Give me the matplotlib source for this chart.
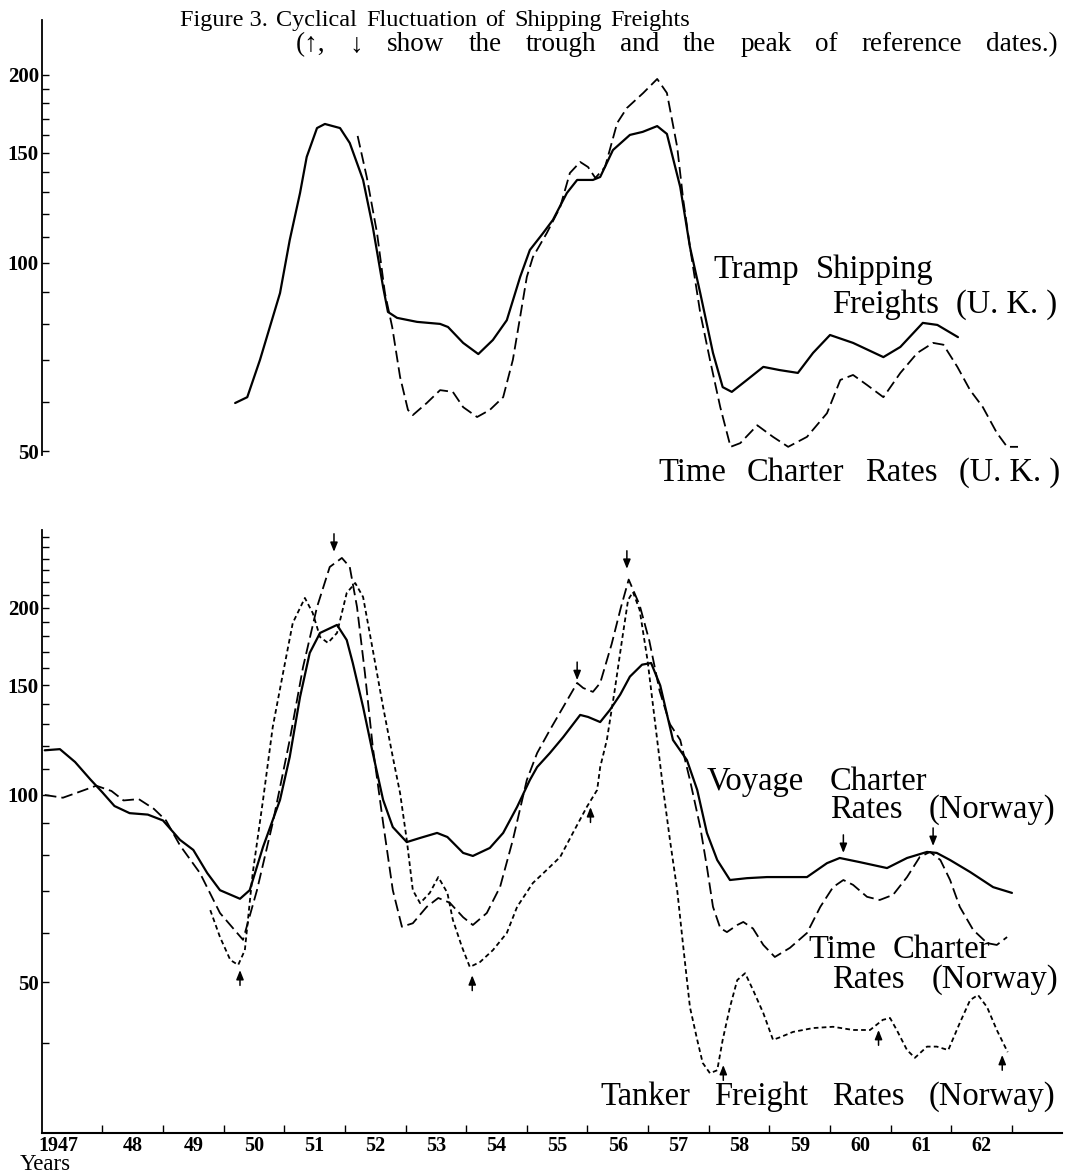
import matplotlib
matplotlib.use("Agg")
import matplotlib.pyplot as plt
from matplotlib.ticker import FixedLocator, NullFormatter, FuncFormatter
from matplotlib.transforms import IdentityTransform

plt.rcParams['font.family'] = ['Liberation Serif', 'DejaVu Serif']

# ---- data (index values) ----
# upper panel: U.K.
tramp_uk_years = [1950.19, 1950.39, 1950.60, 1950.93, 1951.09, 1951.26, 1951.37, 1951.54, 1951.67, 1951.92,
                  1952.08, 1952.30, 1952.46, 1952.63, 1952.71, 1952.86, 1953.19, 1953.57, 1953.70, 1953.95,
                  1954.20, 1954.44, 1954.67, 1954.89, 1955.05, 1955.27, 1955.43, 1955.66, 1955.83, 1956.09,
                  1956.21, 1956.42, 1956.70, 1956.91, 1957.15, 1957.31, 1957.53, 1957.69, 1957.86, 1958.07,
                  1958.23, 1958.38, 1958.63, 1958.90, 1959.17, 1959.47, 1959.72, 1960.00, 1960.38, 1960.88,
                  1961.16, 1961.53, 1961.77, 1962.11]
tramp_uk = [59.7, 61.0, 70.0, 89.5, 108.8, 129.4, 147.8, 164.4, 166.9, 164.4,
            155.6, 135.8, 114.2, 91.5, 83.5, 81.7, 80.5, 79.9, 79.0, 74.5,
            71.5, 75.3, 81.0, 95.0, 104.9, 111.7, 117.2, 129.4, 135.8, 135.8,
            137.3, 151.6, 160.3, 162.1, 165.6, 160.9, 132.3, 106.1, 89.5, 71.8,
            63.3, 62.2, 65.0, 68.2, 67.4, 66.7, 71.8, 76.7, 74.5, 70.7,
            73.4, 80.2, 79.6, 76.1]

tc_uk_years = [1952.21, 1952.36, 1952.53, 1952.66, 1952.78, 1952.91, 1953.04, 1953.12, 1953.35, 1953.57,
               1953.78, 1953.95, 1954.18, 1954.39, 1954.61, 1954.77, 1954.89, 1955.00, 1955.10, 1955.33,
               1955.55, 1955.71, 1955.88, 1956.01, 1956.13, 1956.29, 1956.49, 1956.65, 1956.92, 1957.15,
               1957.31, 1957.48, 1957.58, 1957.69, 1957.86, 1958.02, 1958.19, 1958.36, 1958.52, 1958.80,
               1959.06, 1959.31, 1959.62, 1959.95, 1960.17, 1960.38, 1960.61, 1960.88, 1961.16, 1961.44,
               1961.70, 1961.87, 1962.10, 1962.31, 1962.52, 1962.75, 1962.92, 1963.10]
tc_uk = [159.7, 137.3, 111.7, 89.5, 79.0, 65.7, 58.2, 57.1, 59.7, 62.6,
         62.2, 58.8, 56.7, 58.2, 61.0, 70.0, 82.0, 95.0, 102.2, 111.7,
         122.9, 139.3, 145.1, 142.4, 136.8, 142.4, 167.5, 177.0, 187.1, 197.0,
         187.1, 153.3, 126.1, 106.1, 83.2, 70.0, 58.8, 50.8, 51.5, 55.0,
         52.7, 50.8, 52.7, 57.5, 65.0, 66.2, 63.8, 61.0, 66.7, 71.8,
         74.5, 74.0, 68.2, 62.6, 58.8, 53.5, 50.8, 50.8]

# lower panel: Norway
voyage_years = [1947.05, 1947.30, 1947.55, 1947.80, 1948.00, 1948.20, 1948.45, 1948.75, 1949.00, 1949.28,
                1949.50, 1949.73, 1949.94, 1950.27, 1950.43, 1950.65, 1950.93, 1951.09, 1951.26, 1951.42,
                1951.59, 1951.87, 1952.03, 1952.13, 1952.30, 1952.46, 1952.63, 1952.79, 1953.02, 1953.24,
                1953.52, 1953.69, 1953.95, 1954.11, 1954.39, 1954.61, 1954.84, 1955.05, 1955.17, 1955.38,
                1955.60, 1955.88, 1956.01, 1956.21, 1956.37, 1956.54, 1956.70, 1956.90, 1957.05, 1957.20,
                1957.41, 1957.64, 1957.81, 1957.97, 1958.14, 1958.35, 1958.63, 1958.96, 1959.39, 1959.62,
                1959.95, 1960.16, 1960.49, 1960.94, 1961.27, 1961.60, 1961.76, 1961.98, 1962.31, 1962.69,
                1963.00]
voyage = [118.0, 118.5, 113.0, 106.0, 101.0, 96.0, 93.5, 93.0, 91.0, 84.7,
          81.6, 74.9, 70.3, 68.1, 70.3, 82.5, 98.2, 115.1, 143.7, 169.2,
          182.2, 187.7, 177.5, 163.0, 138.5, 116.8, 98.2, 88.8, 84.0, 85.3,
          86.9, 85.6, 80.7, 79.8, 82.2, 86.9, 95.7, 105.7, 110.9, 116.8,
          123.9, 134.5, 133.5, 131.0, 137.0, 145.0, 155.0, 162.0, 163.0, 150.0,
          122.6, 113.8, 101.9, 86.9, 78.6, 73.0, 73.5, 73.8, 73.8, 73.8,
          77.7, 79.2, 78.0, 76.3, 79.2, 81.0, 80.7, 78.6, 75.2, 71.1,
          69.6]

tc_nor_years = [1947.05, 1947.35, 1947.60, 1947.90, 1948.15, 1948.35, 1948.60, 1948.85, 1949.05, 1949.28,
                1949.61, 1949.94, 1950.32, 1950.55, 1950.81, 1951.09, 1951.31, 1951.54, 1951.75, 1951.95,
                1952.08, 1952.20, 1952.33, 1952.46, 1952.63, 1952.79, 1952.94, 1953.12, 1953.35, 1953.54,
                1953.73, 1953.95, 1954.11, 1954.34, 1954.56, 1954.77, 1955.00, 1955.17, 1955.38, 1955.60,
                1955.83, 1955.93, 1956.09, 1956.21, 1956.40, 1956.55, 1956.68, 1956.86, 1957.02, 1957.19,
                1957.36, 1957.53, 1957.69, 1957.86, 1957.97, 1958.07, 1958.19, 1958.30, 1958.47, 1958.57,
                1958.73, 1958.90, 1959.09, 1959.34, 1959.62, 1959.84, 1960.05, 1960.22, 1960.38, 1960.61,
                1960.82, 1961.04, 1961.27, 1961.48, 1961.65, 1961.82, 1961.98, 1962.14, 1962.36, 1962.59,
                1962.75, 1962.92]
tc_nor = [100.0, 99.0, 101.0, 103.5, 101.5, 98.0, 98.5, 95.0, 91.0, 83.0,
          74.9, 64.6, 58.5, 70.3, 90.2, 122.6, 160.6, 200.5, 232.6, 240.5,
          232.6, 200.5, 157.1, 119.4, 90.2, 70.3, 61.4, 62.2, 66.1, 68.3,
          67.1, 63.6, 61.8, 64.6, 71.2, 84.7, 105.7, 116.8, 127.2, 138.5,
          151.4, 148.6, 146.5, 151.4, 175.0, 200.0, 222.0, 202.0, 177.0, 147.0,
          130.0, 122.6, 105.7, 88.8, 76.6, 66.1, 61.1, 60.2, 61.8, 62.5,
          61.0, 57.4, 54.9, 56.8, 60.0, 66.1, 71.1, 73.0, 71.7, 68.6,
          67.8, 69.1, 73.8, 79.5, 81.0, 78.6, 73.0, 66.1, 60.7, 57.8,
          57.4, 59.1]

tanker_years = [1949.78, 1949.94, 1950.11, 1950.24, 1950.35, 1950.48, 1950.65, 1950.81, 1950.98, 1951.14,
                1951.34, 1951.47, 1951.59, 1951.72, 1951.87, 1952.03, 1952.17, 1952.30, 1952.46, 1952.63,
                1952.79, 1952.91, 1953.02, 1953.12, 1953.24, 1953.40, 1953.54, 1953.69, 1953.78, 1953.93,
                1954.06, 1954.23, 1954.44, 1954.67, 1954.84, 1955.10, 1955.33, 1955.55, 1955.76, 1955.99,
                1956.16, 1956.21, 1956.32, 1956.45, 1956.57, 1956.67, 1956.75, 1956.86, 1956.99, 1957.15,
                1957.25, 1957.36, 1957.48, 1957.58, 1957.69, 1957.81, 1957.90, 1958.02, 1958.14, 1958.23,
                1958.35, 1958.47, 1958.60, 1958.73, 1958.90, 1959.06, 1959.18, 1959.39, 1959.72, 1960.05,
                1960.38, 1960.66, 1960.87, 1960.99, 1961.10, 1961.27, 1961.40, 1961.60, 1961.76, 1961.95,
                1962.14, 1962.31, 1962.44, 1962.59, 1962.75, 1962.93]
tanker = [65.3, 59.1, 54.3, 53.3, 56.3, 74.9, 98.2, 128.6, 157.1, 189.0,
          207.4, 196.1, 179.5, 175.6, 182.2, 211.3, 219.2, 208.1, 171.1, 138.5,
          115.1, 100.7, 84.7, 70.3, 67.0, 69.6, 73.8, 69.6, 63.0, 57.0,
          52.9, 53.9, 56.3, 60.0, 66.1, 72.2, 75.8, 79.5, 86.9, 95.7,
          101.9, 110.9, 122.6, 147.5, 177.5, 205.9, 212.0, 198.5, 164.8, 122.6,
          101.9, 84.7, 70.3, 57.0, 45.6, 40.4, 37.1, 35.7, 36.1, 40.4,
          45.6, 50.4, 51.7, 48.6, 44.6, 40.4, 40.8, 41.6, 42.2, 42.4,
          41.9, 41.9, 43.5, 43.8, 41.9, 38.9, 37.8, 39.4, 39.4, 38.9,
          43.0, 46.8, 47.7, 45.6, 41.9, 38.6]

# reference dates: peaks (down arrows) and troughs (up arrows), tip values
peak_years = [1951.82, 1955.83, 1956.65, 1960.22, 1961.70]
peak_tips = [246, 153, 231, 80.7, 82.8]
trough_years = [1950.27, 1954.10, 1956.05, 1958.24, 1960.80, 1962.84]
trough_tips = [52.3, 51.3, 95.6, 36.8, 41.9, 38.2]

year_labels = ['1947'] + [str(y)[2:] for y in range(1948, 1963)]
year_label_pos = [1947.27] + [y + 0.5 for y in range(1948, 1963)]
y_major = [50, 100, 150, 200]
top_minor = [60, 70, 80, 90, 110, 120, 130, 140, 160, 170, 180, 190]
bot_minor = [40, 60, 70, 80, 90, 110, 120, 130, 140, 160, 170, 180, 190, 210, 220, 230, 240, 250, 260]

# ---- layout (pixels of the 1067x1174 output) ----
W, H = 1067, 1174
X0, X1, PX_YEAR = 41.7, 1062, 60.64
fig = plt.figure(figsize=(W / 100, H / 100), dpi=100)

ax_top = fig.add_axes([X0 / W, 1 - 455 / H, (X1 - X0) / W, 435 / H])
ax_bot = fig.add_axes([X0 / W, 1 - 1133 / H, (X1 - X0) / W, (1133 - 530) / H])

xlim = (1947, 1947 + (X1 - X0) / PX_YEAR)
for ax in (ax_top, ax_bot):
    ax.set_yscale('log')
    ax.set_xlim(*xlim)
    ax.spines['top'].set_visible(False)
    ax.spines['right'].set_visible(False)
    ax.spines['left'].set_linewidth(1.3)
    ax.yaxis.set_major_locator(FixedLocator(y_major))
    ax.yaxis.set_major_formatter(FuncFormatter(lambda v, p: f"{v:g}"))
    ax.yaxis.set_minor_formatter(NullFormatter())
    ax.tick_params(axis='y', which='both', direction='in', length=5, width=1, pad=2,
                   labelsize=15)
    for lbl in ax.get_yticklabels():
        lbl.set_fontweight('bold')

ax_top.set_ylim(100 * 10 ** ((263 - 455) / 625), 100 * 10 ** ((263 - 20) / 625))
ax_bot.set_ylim(100 * 10 ** ((795 - 1133) / 622), 100 * 10 ** ((795 - 530) / 622))
ax_top.yaxis.set_minor_locator(FixedLocator(top_minor))
ax_bot.yaxis.set_minor_locator(FixedLocator(bot_minor))

ax_top.spines['bottom'].set_visible(False)
ax_top.tick_params(axis='x', which='both', bottom=False, labelbottom=False)

ax_bot.spines['bottom'].set_linewidth(1.5)
ax_bot.xaxis.set_major_locator(FixedLocator(list(range(1948, 1964))))
ax_bot.xaxis.set_major_formatter(NullFormatter())
ax_bot.set_xticks(year_label_pos, year_labels, minor=True, fontweight='bold', fontsize=14.5)
ax_bot.tick_params(axis='x', which='major', direction='in', length=6, width=1)
ax_bot.tick_params(axis='x', which='minor', length=0, pad=2)

solid = dict(color='black', lw=1.6, solid_joinstyle='round', solid_capstyle='round')
longdash = dict(color='black', lw=1.3, dashes=(6.5, 2.8), dash_joinstyle='round')
shortdash = dict(color='black', lw=1.3, dashes=(2.6, 1.8), dash_joinstyle='round')

ax_top.plot(tramp_uk_years, tramp_uk, **solid)
ax_top.plot(tc_uk_years, tc_uk, **longdash)

ax_bot.plot(voyage_years, voyage, **solid)
ax_bot.plot(tc_nor_years, tc_nor, **longdash)
ax_bot.plot(tanker_years, tanker, **shortdash)

arrow = dict(arrowstyle='-|>,head_length=0.55,head_width=0.22', color='black', lw=1.1,
             shrinkA=0, shrinkB=0)
for x, v in zip(peak_years, peak_tips):
    ax_bot.annotate('', xy=(x, v), xytext=(0, 13), textcoords='offset points', arrowprops=arrow)
for x, v in zip(trough_years, trough_tips):
    ax_bot.annotate('', xy=(x, v), xytext=(0, -11), textcoords='offset points', arrowprops=arrow)

# ---- text ----
renderer = fig.canvas.get_renderer()


def spread(words, x0, x1, base, size, **kw):
    # lay words out between x0 and x1 (pixels), baseline at `base` from top
    texts = [fig.text(0, 0, w, transform=IdentityTransform(), fontsize=size,
                      ha='left', va='baseline', **kw) for w in words]
    widths = [t.get_window_extent(renderer=renderer).width for t in texts]
    gap = (x1 - x0 - sum(widths)) / max(len(words) - 1, 1)
    x = x0
    for t, w in zip(texts, widths):
        t.set_position((x, H - base))
        x += w + gap


spread(['Figure 3.', 'Cyclical', 'Fluctuation', 'of', 'Shipping', 'Freights'], 180, 690, 26, 17.5)
spread(['(\u2191,', '\u2193', 'show', 'the', 'trough', 'and', 'the', 'peak', 'of', 'reference', 'dates.)'],
       296, 1058, 51, 19.5)

lab = 23.5
spread(['Tramp', 'Shipping'], 713, 933, 278, lab)
spread(['Freights', '(U. K. )'], 832, 1057, 313, lab)
spread(['Time', 'Charter', 'Rates', '(U. K. )'], 658, 1060, 481, lab)
spread(['Voyage', 'Charter'], 707, 927, 790, lab)
spread(['Rates', '(Norway)'], 830, 1055, 818, lab)
spread(['Time', 'Charter'], 808, 990, 958, lab)
spread(['Rates', '(Norway)'], 832, 1058, 988, lab)
spread(['Tanker', 'Freight', 'Rates', '(Norway)'], 600, 1055, 1105, lab)

fig.text(20, H - 1170, 'Years', transform=IdentityTransform(), fontsize=16.5, ha='left', va='baseline')

fig.savefig('out.png', dpi=100, facecolor='white')
